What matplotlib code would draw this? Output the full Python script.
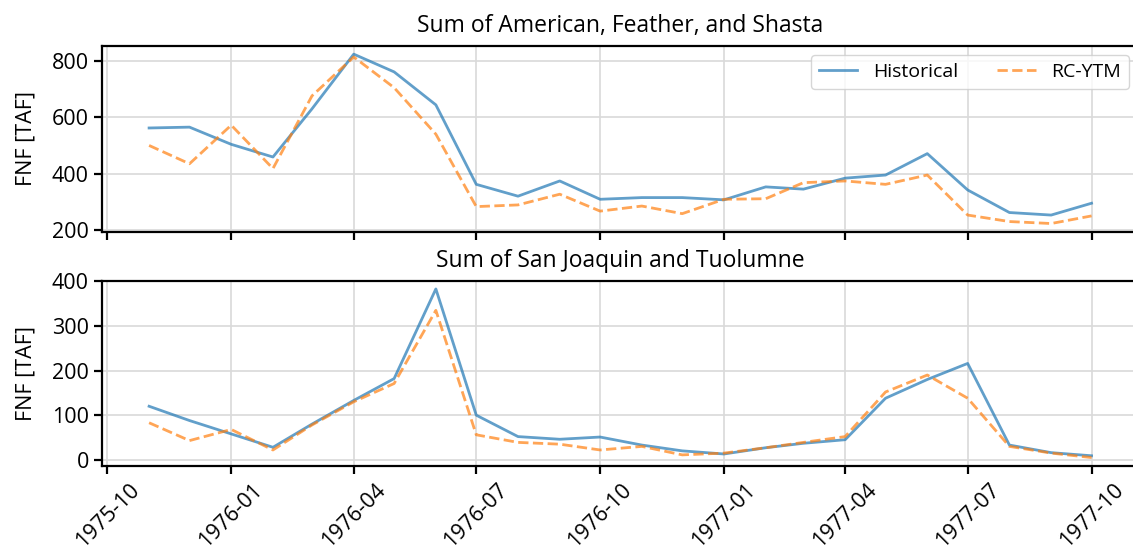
import numpy as np
import pandas as pd
import matplotlib
matplotlib.use('Agg')
from matplotlib import pyplot as plt
import matplotlib.dates as mdates

plt.rcParams['font.family'] = ['Open Sans', 'DejaVu Sans']

months = pd.date_range('1975-11-01', periods=24, freq='MS')

# Sum of American, Feather, and Shasta
north_hist = [562, 565, 504, 459, 630, 824, 761, 644, 362, 320, 374, 309,
              315, 315, 307, 353, 345, 384, 395, 471, 342, 262, 253, 295]
north_rc = [500, 435, 572, 418, 676, 814, 705, 540, 283, 289, 327, 267,
            285, 258, 309, 311, 368, 374, 362, 395, 253, 230, 223, 250]

# Sum of San Joaquin and Tuolumne
south_hist = [120, 88, 58, 28, 80, 133, 182, 383, 100, 52, 46, 51,
              33, 20, 13, 27, 37, 45, 138, 180, 216, 33, 16, 9]
south_rc = [83, 43, 68, 22, 78, 130, 171, 335, 56, 39, 35, 22,
            30, 11, 15, 27, 39, 52, 152, 190, 138, 30, 15, 5]

titles = ['Sum of American, Feather, and Shasta', 'Sum of San Joaquin and Tuolumne']
series = [(north_hist, north_rc), (south_hist, south_rc)]

fig = plt.figure(figsize=(11.33, 5.57), dpi=100)
ax1 = fig.add_axes([0.090, 0.5835, 0.915, 0.3345])
ax2 = fig.add_axes([0.090, 0.1634, 0.915, 0.3330], sharex=ax1)
axs = [ax1, ax2]

for ax, title, (hist, rc) in zip(axs, titles, series):
    ax.plot(months, hist, color='tab:blue', alpha=0.7, lw=2, label='Historical')
    ax.plot(months, rc, color='tab:orange', alpha=0.7, lw=2, ls='--', label='RC-YTM')
    ax.set_title(title, fontsize=16.5, pad=10)
    ax.set_ylabel('FNF [TAF]', fontsize=15.5, labelpad=11)
    ax.grid(True, color='0.85', lw=1.2)
    ax.tick_params(labelsize=15.5, width=1.6, length=6)
    for s in ax.spines.values():
        s.set_linewidth(1.6)

ax1.set_yticks([200, 400, 600, 800])
ax2.set_yticks([0, 100, 200, 300, 400])
ax1.tick_params(labelbottom=False)

ax2.xaxis.set_major_locator(mdates.MonthLocator(bymonth=[1, 4, 7, 10]))
ax2.xaxis.set_major_formatter(mdates.DateFormatter('%Y-%m'))
plt.setp(ax2.get_xticklabels(), rotation=45)

ax1.legend(loc='upper right', ncol=2, fontsize=14, borderaxespad=0.5)

fig.savefig('out.png', dpi=100)
